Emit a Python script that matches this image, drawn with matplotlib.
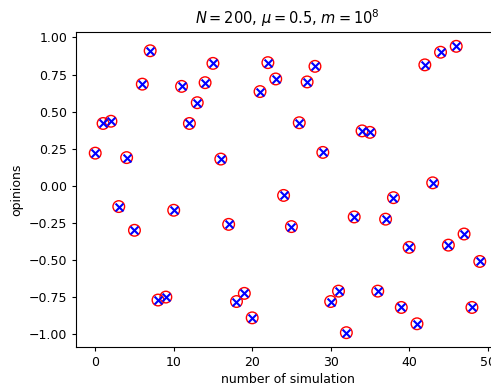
import matplotlib
matplotlib.use('Agg')
import matplotlib.pyplot as plt
import numpy as np

# 每次模拟的最终意见值
sim_index = np.arange(50)
opinions = [0.22, 0.42, 0.435, -0.14, 0.19, -0.30, 0.685, 0.91, -0.77, -0.75,
            -0.165, 0.67, 0.42, 0.56, 0.695, 0.825, 0.18, -0.26, -0.78, -0.725,
            -0.89, 0.635, 0.83, 0.72, -0.065, -0.275, 0.425, 0.70, 0.805, 0.225,
            -0.78, -0.71, -0.99, -0.21, 0.37, 0.36, -0.71, -0.225, -0.08, -0.82,
            -0.415, -0.93, 0.815, 0.02, 0.90, -0.40, 0.94, -0.325, -0.82, -0.51]

# 原图是缩小后的，字号按比例调小
plt.rcParams['font.size'] = 9
plt.rcParams['xtick.major.size'] = 3.2
plt.rcParams['ytick.major.size'] = 3.2
plt.rcParams['xtick.major.pad'] = 3.2
plt.rcParams['ytick.major.pad'] = 3.2
plt.rcParams['axes.linewidth'] = 0.8

fig = plt.figure(figsize=(4.91, 3.85), dpi=100)
ax = fig.add_axes([76/491, 38/385, 423/491, 315/385])

ax.scatter(sim_index, opinions, s=70, facecolors='none', edgecolors='red')
ax.scatter(sim_index, opinions, s=32, marker='x', color='blue')

ax.set_title(r'$N=200$, $\mu=0.5$, $m=10^8$', fontsize=10.5)
ax.set_xlabel('number of simulation', labelpad=3)
ax.set_ylabel('opinions')

fig.savefig('out.png', dpi=100)
